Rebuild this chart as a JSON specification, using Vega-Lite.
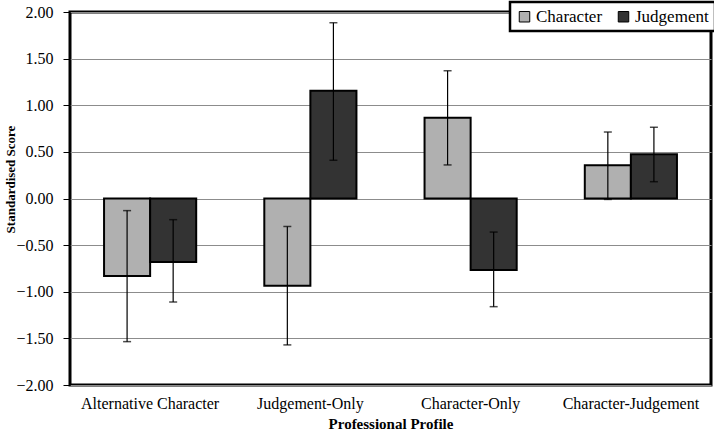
{
  "$schema": "https://vega.github.io/schema/vega-lite/v6.json",
  "autosize": "none",
  "width": 641,
  "height": 373,
  "padding": {"left": 70, "top": 12, "right": 3, "bottom": 51},
  "background": "white",
  "config": {
    "font": "Times New Roman, Liberation Serif, serif",
    "view": {"stroke": "black", "strokeWidth": 3},
    "axis": {"labelFont": "Times New Roman, Liberation Serif, serif", "titleFont": "Times New Roman, Liberation Serif, serif", "labelColor": "black", "titleColor": "black"},
    "legend": {"labelFont": "Times New Roman, Liberation Serif, serif"}
  },
  "data": {
    "values": [
      {"profile": "Alternative Character", "series": "Character", "value": -0.83, "lo": -1.535, "hi": -0.13},
      {"profile": "Alternative Character", "series": "Judgement", "value": -0.68, "lo": -1.11, "hi": -0.227},
      {"profile": "Judgement-Only", "series": "Character", "value": -0.935, "lo": -1.57, "hi": -0.30},
      {"profile": "Judgement-Only", "series": "Judgement", "value": 1.156, "lo": 0.41, "hi": 1.885},
      {"profile": "Character-Only", "series": "Character", "value": 0.866, "lo": 0.36, "hi": 1.37},
      {"profile": "Character-Only", "series": "Judgement", "value": -0.767, "lo": -1.16, "hi": -0.36},
      {"profile": "Character-Judgement", "series": "Character", "value": 0.356, "lo": -0.01, "hi": 0.713},
      {"profile": "Character-Judgement", "series": "Judgement", "value": 0.474, "lo": 0.18, "hi": 0.764}
    ]
  },
  "encoding": {
    "x": {
      "field": "profile", "type": "nominal",
      "sort": ["Alternative Character", "Judgement-Only", "Character-Only", "Character-Judgement"],
      "scale": {"paddingInner": 0.425, "paddingOuter": 0.2125},
      "axis": {"title": "Professional Profile", "labelAngle": 0, "labelFontSize": 16, "labelPadding": 10, "ticks": false, "domain": false, "titleFontSize": 15, "titleFontWeight": "bold", "titlePadding": 5}
    },
    "xOffset": {"field": "series", "type": "nominal", "scale": {"paddingInner": 0, "paddingOuter": 0}}
  },
  "layer": [
    {
      "mark": {"type": "bar", "stroke": "black", "strokeWidth": 2},
      "encoding": {
        "y": {
          "field": "value", "type": "quantitative",
          "scale": {"domain": [-2, 2], "nice": false},
          "axis": {"title": "Standardised Score", "format": ".2f", "values": [-2, -1.5, -1, -0.5, 0, 0.5, 1, 1.5, 2], "labelFontSize": 16, "labelPadding": 10, "tickSize": 7, "tickColor": "black", "domain": false, "gridColor": "#8c8c8c", "gridWidth": 1, "titleFontSize": 13, "titleFontWeight": "bold", "titleX": -56, "titleY": 167, "titleBaseline": "alphabetic"}
        },
        "fill": {
          "field": "series", "type": "nominal",
          "scale": {"domain": ["Character", "Judgement"], "range": ["#b0b0b0", "#333333"]},
          "legend": {
            "title": null, "orient": "none", "legendX": 440, "legendY": -10, "direction": "horizontal",
            "strokeColor": "black", "fillColor": "white", "padding": 6,
            "symbolType": "square", "symbolSize": 110, "symbolStrokeColor": "black", "symbolStrokeWidth": 1,
            "labelFontSize": 17, "labelColor": "black", "columnPadding": 12, "labelOffset": 3,
            "encode": {"legend": {"update": {"strokeWidth": {"value": 2.5}}}}
          }
        }
      }
    },
    {
      "mark": {"type": "rule", "color": "black", "strokeWidth": 1.2},
      "encoding": {
        "y": {"field": "lo", "type": "quantitative"},
        "y2": {"field": "hi"}
      }
    },
    {
      "mark": {"type": "tick", "color": "black", "size": 8, "thickness": 1.5},
      "encoding": {"y": {"field": "lo", "type": "quantitative"}}
    },
    {
      "mark": {"type": "tick", "color": "black", "size": 8, "thickness": 1.5},
      "encoding": {"y": {"field": "hi", "type": "quantitative"}}
    }
  ]
}
